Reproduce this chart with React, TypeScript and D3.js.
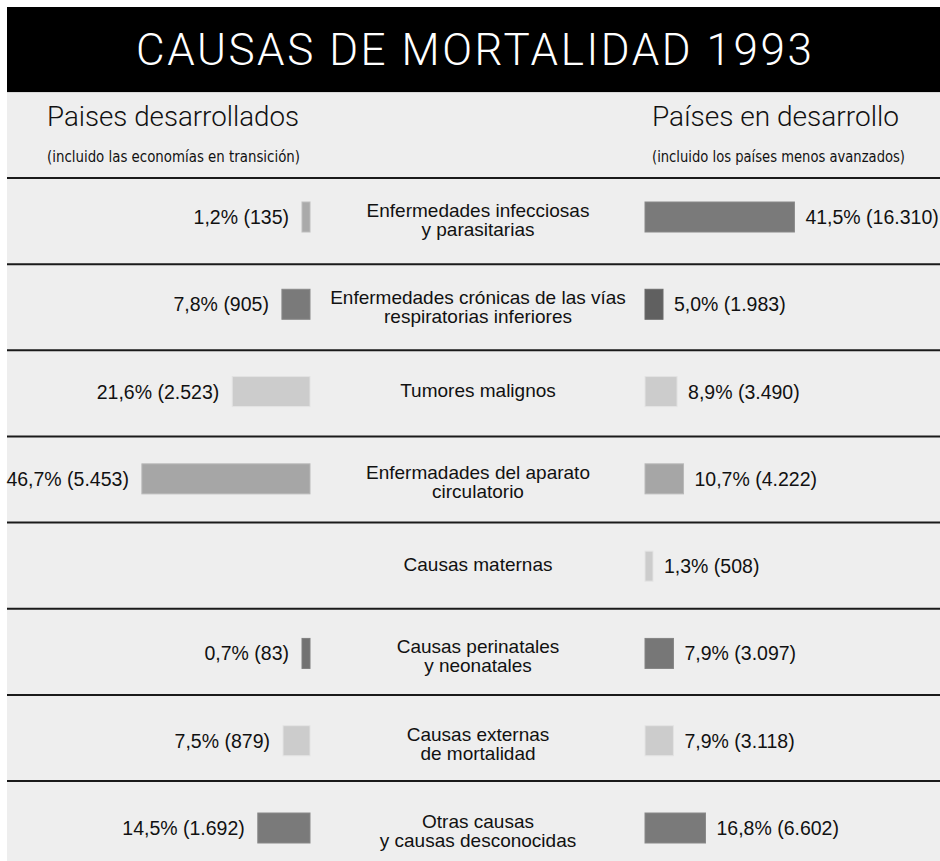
import React from "react";
import * as d3 from "d3";

// ---- data ----
const causeLines: string[][] = [
  ["Enfermedades infecciosas", "y parasitarias"],
  ["Enfermedades crónicas de las vías", "respiratorias inferiores"],
  ["Tumores malignos"],
  ["Enfermadades del aparato", "circulatorio"],
  ["Causas maternas"],
  ["Causas perinatales", "y neonatales"],
  ["Causas externas", "de mortalidad"],
  ["Otras causas", "y causas desconocidas"],
];
const developedPct: (number | null)[] = [1.2, 7.8, 21.6, 46.7, null, 0.7, 7.5, 14.5];
const developedDeaths: (number | null)[] = [135, 905, 2523, 5453, null, 83, 879, 1692];
const developingPct: number[] = [41.5, 5.0, 8.9, 10.7, 1.3, 7.9, 7.9, 16.8];
const developingDeaths: number[] = [16310, 1983, 3490, 4222, 508, 3097, 3118, 6602];
const developedColors = ["#aaaaaa", "#7a7a7a", "#cccccc", "#a6a6a6", "#cccccc", "#727272", "#cccccc", "#7a7a7a"];
const developingColors = ["#7a7a7a", "#606060", "#cccccc", "#a6a6a6", "#cccccc", "#777777", "#cccccc", "#7a7a7a"];

const title = "CAUSAS DE MORTALIDAD 1993";
const leftHeader = "Paises desarrollados";
const leftSub = "(incluido las economías en transición)";
const rightHeader = "Países en desarrollo";
const rightSub = "(incluido los países menos avanzados)";

const locale = d3.formatLocale({ decimal: ",", thousands: ".", grouping: [3], currency: ["", ""] });
const fmtPct = locale.format(".1f");
const fmtN = locale.format(",d");

const FONT = "'Liberation Sans', Arial, sans-serif";
const NARROW = "'Liberation Sans Narrow', 'DejaVu Sans Condensed', 'Liberation Sans', sans-serif";
const LIGHT = "'Roboto Light', 'Lato Light', 'Open Sans Light', Lato, Roboto, sans-serif";

export default function App() {
  const W = 940;
  const H = 861;
  const idx = causeLines.map((_, i) => i);

  const rowScale = d3.scaleBand<number>().domain(idx).range([178, 178 + 86.15 * 8]);
  const barCenter = d3.scalePoint<number>().domain(idx).range([217, 828]);
  const xw = d3.scaleLinear().domain([0, 50]).range([0, 180]);
  const barW = (v: number) => Math.max(8, xw(v));
  const leftEdge = 310;
  const rightEdge = 645;
  const midX = 478;
  const barH = 30;

  return (
    <svg
      width={W}
      height={H}
      style={{ position: "absolute", left: 0, top: 0, display: "block" }}
    >
      <rect x={0} y={0} width={W} height={H} fill="#ffffff" />
      <rect x={7} y={7} width={980} height={85} fill="#000000" />
      <rect x={7} y={92} width={980} height={H} fill="#eeeeee" />
      <line x1={7} x2={W} y1={92.5} y2={92.5} stroke="#d8d8d8" strokeWidth={1} />

      <text
        x={136}
        y={65}
        fill="#ffffff"
        fontFamily={LIGHT}
        fontWeight={300}
        fontSize={44}
        textLength={676}
        lengthAdjust="spacing"
      >
        {title}
      </text>

      <text x={47} y={126} fill="#111" fontFamily={LIGHT} fontWeight={300} fontSize={27} textLength={252} lengthAdjust="spacingAndGlyphs">
        {leftHeader}
      </text>
      <text x={47} y={162} fill="#111" fontFamily={NARROW} fontSize={16.5} textLength={253} lengthAdjust="spacingAndGlyphs">
        {leftSub}
      </text>
      <text x={652} y={126} fill="#111" fontFamily={LIGHT} fontWeight={300} fontSize={27} textLength={247} lengthAdjust="spacingAndGlyphs">
        {rightHeader}
      </text>
      <text x={652} y={162} fill="#111" fontFamily={NARROW} fontSize={16.5} textLength={253} lengthAdjust="spacingAndGlyphs">
        {rightSub}
      </text>

      {idx.map((i) => (
        <line
          key={"sep" + i}
          x1={7}
          x2={W}
          y1={rowScale(i)!}
          y2={rowScale(i)!}
          stroke="#1a1a1a"
          strokeWidth={2}
        />
      ))}

      {idx.map((i) => {
        const cy = barCenter(i)!;
        const lines = causeLines[i];
        const lp = developedPct[i];
        const ld = developedDeaths[i];
        const rp = developingPct[i];
        const rd = developingDeaths[i];
        const lw = lp != null ? barW(lp) : 0;
        const rw = barW(rp);
        return (
          <g key={"row" + i}>
            {lines.map((t, k) => (
              <text
                key={k}
                x={midX}
                y={lines.length === 1 ? cy + 5 : cy + k * 19}
                textAnchor="middle"
                fontFamily={FONT}
                fontSize={19}
                fill="#111"
              >
                {t}
              </text>
            ))}
            {lp != null && (
              <g>
                <rect
                  x={leftEdge - lw}
                  y={cy - barH / 2}
                  width={lw}
                  height={barH}
                  fill={developedColors[i]}
                  stroke={d3.color(developedColors[i])!.brighter(0.3).formatHex()}
                  strokeWidth={1}
                />
                <text
                  x={leftEdge - lw - 13}
                  y={cy + 7}
                  textAnchor="end"
                  fontFamily={FONT}
                  fontSize={19.5}
                  fill="#111"
                >
                  {`${fmtPct(lp)}% (${fmtN(ld as number)})`}
                </text>
              </g>
            )}
            <rect
              x={rightEdge}
              y={cy - barH / 2}
              width={rw}
              height={barH}
              fill={developingColors[i]}
              stroke={d3.color(developingColors[i])!.brighter(0.3).formatHex()}
              strokeWidth={1}
            />
            <text
              x={rightEdge + rw + 11}
              y={cy + 7}
              fontFamily={FONT}
              fontSize={19.5}
              fill="#111"
            >
              {`${fmtPct(rp)}% (${fmtN(rd)})`}
            </text>
          </g>
        );
      })}
    </svg>
  );
}
